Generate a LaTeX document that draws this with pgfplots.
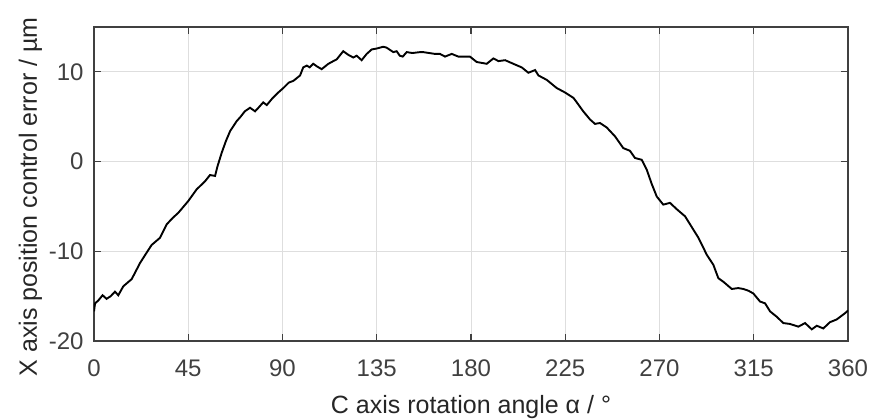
\documentclass[border=0pt]{standalone}
\usepackage{pgfplots}
\pgfplotsset{compat=1.18}
\usepackage{fontspec}
\setmainfont{Liberation Sans}
\definecolor{axgray}{RGB}{64,64,64}
\definecolor{txtgray}{RGB}{38,38,38}
\definecolor{gridgray}{RGB}{222,222,222}
\begin{document}
\begin{tikzpicture}
\useasboundingbox (-94pt,-77pt) rectangle (779pt,341pt);
\begin{axis}[
  at={(0,0)}, anchor=south west,
  scale only axis, width=754pt, height=314pt,
  xmin=0, xmax=360, ymin=-20, ymax=15,
  xtick={0,45,...,360}, ytick={-20,-10,0,10},
  tick align=inside, major tick length=7pt,
  axis line style={axgray, line width=1.1pt},
  every tick/.style={axgray, line width=1.1pt},
  grid=major, major grid style={gridgray, line width=0.9pt},
  /pgf/number format/assume math mode=true,
  tick label style={font=\fontsize{24}{28}\selectfont, text=axgray},
  xticklabel style={yshift=-15pt},
  yticklabel style={xshift=-7pt},
  xlabel={C axis rotation angle α / °},
  ylabel={X axis position control error / µm},
  every axis x label/.style={at={(axis description cs:0.5,-0.2293)}, anchor=base,
     font=\fontsize{25}{29}\selectfont, text=txtgray},
  every axis y label/.style={at={(axis description cs:-0.0756,0.459)}, anchor=base, rotate=90,
     font=\fontsize{25}{29}\selectfont, text=txtgray},
]
\addplot[black, line width=1.9pt] coordinates {
(0,-16.7) (0.5,-15.8) (2,-15.5) (4.1,-14.9) (6.0,-15.3) (8,-15.0) (10,-14.5) (11.6,-14.9)
(14,-13.9) (18,-13.1) (22,-11.3) (25,-10.2) (27.5,-9.3) (31.5,-8.5) (34.7,-7.0) (37.5,-6.3)
(40.3,-5.7) (45,-4.4) (49,-3.1) (53,-2.2) (55.4,-1.5) (57.8,-1.6) (59.0,-0.5) (61.0,1.0)
(63,2.3) (65,3.4) (68.1,4.5) (70,5.0) (72,5.6) (74.5,6.0) (76.9,5.6) (78.5,6.0) (80.8,6.6)
(82.5,6.3) (85,7.0) (88,7.7) (90.4,8.2) (93,8.8) (95.2,9.0) (98.4,9.6) (99.9,10.5) (101.6,10.7)
(103,10.5) (104.7,10.9) (106.5,10.6) (108.7,10.3) (111.9,10.9) (115.9,11.4) (119,12.3)
(121.4,11.9) (123.8,11.6) (125.4,11.8) (127.8,11.3) (130.2,12.0) (132.6,12.5) (135,12.6)
(138.1,12.8) (139.7,12.7) (142.9,12.2) (144.5,12.3) (146,11.8) (147.4,11.7) (149.3,12.2)
(152,12.1) (155.7,12.2) (157.2,12.2) (160,12.1) (162.8,12.0) (165.2,12.0) (167.6,11.7)
(170.8,12.0) (174,11.7) (179.5,11.7) (182.7,11.1) (187.5,10.9) (190.7,11.5) (193.1,11.2)
(196.3,11.3) (200.2,10.9) (204.2,10.5) (207.4,9.9) (210.6,10.2) (212.2,9.6) (216.2,9.1)
(220.9,8.2) (224.9,7.7) (228.9,7.1) (230.5,6.6) (233.6,5.6) (236.8,4.7) (239.2,4.2)
(241.6,4.3) (244.8,3.8) (248.8,2.8) (252.7,1.5) (255.9,1.2) (258.3,0.4) (261.5,0.2)
(263.9,-0.9) (266.3,-2.5) (268.7,-3.9) (271.8,-4.8) (275,-4.6) (278.2,-5.3) (282.2,-6.1)
(284.6,-7.0) (288.6,-8.5) (292.6,-10.4) (295.7,-11.5) (298.1,-13.0) (300.5,-13.4)
(304.5,-14.2) (307.6,-14.1) (310,-14.2) (312.5,-14.4) (314.8,-14.7) (318,-15.6) (320.4,-15.8)
(322.8,-16.7) (326,-17.3) (329.1,-18.0) (332.3,-18.1) (336.3,-18.4) (339.5,-18.0)
(342.7,-18.7) (345.1,-18.3) (348.2,-18.6) (351.4,-17.9) (354.6,-17.6) (358.6,-16.9) (360,-16.6)
};
\end{axis}
\end{tikzpicture}
\end{document}
